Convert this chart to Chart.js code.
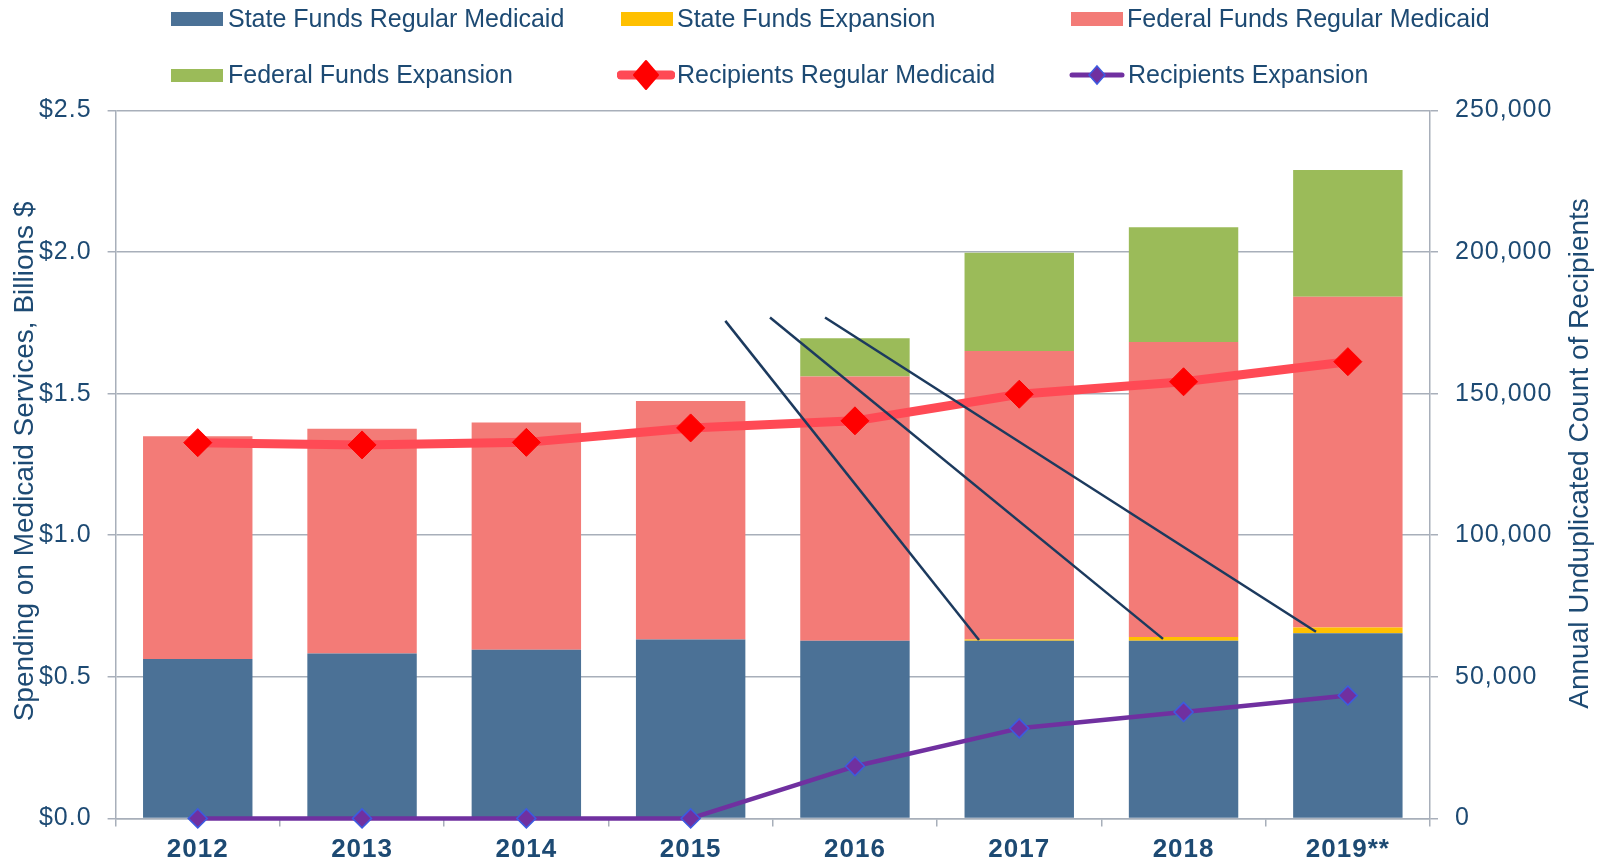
<!DOCTYPE html>
<html>
<head>
<meta charset="utf-8">
<script src="https://cdn.jsdelivr.net/npm/chart.js@4.4.1/dist/chart.umd.min.js"></script>
<style>
  html, body { margin: 0; padding: 0; background: #ffffff; }
  #wrap { position: relative; width: 1604px; height: 865px; overflow: hidden; }
  canvas { position: absolute; left: 0; top: 0; }
  .lg { position: absolute; font-family: "Liberation Sans", Arial, sans-serif; font-size: 25px; line-height: 30px; color: #1D4A73; white-space: nowrap; }
  .sw { position: absolute; }
</style>
</head>
<body>
<div id="wrap">
  <canvas id="c" width="1604" height="865"></canvas>
  <div id="legend"></div>
</div>
<script>
// ---- data ----
const years = ['2012', '2013', '2014', '2015', '2016', '2017', '2018', '2019**'];
const stateFundsRegular   = [0.563, 0.582, 0.596, 0.632, 0.627, 0.627, 0.627, 0.654];
const stateFundsExpansion = [0, 0, 0, 0, 0, 0.005, 0.014, 0.020];
const federalFundsRegular = [0.787, 0.794, 0.802, 0.842, 0.934, 1.019, 1.041, 1.168];
const federalFundsExpansion = [0, 0, 0, 0, 0.135, 0.347, 0.406, 0.448];
const recipientsRegular   = [132700, 131900, 132800, 137900, 140400, 149800, 154200, 161300];
const recipientsExpansion = [0, 0, 0, 0, 18400, 31800, 37600, 43400];
const spendingTickLabels  = ['$0.0', '$0.5', '$1.0', '$1.5', '$2.0', '$2.5'];
const recipientTickLabels = ['0', '50,000', '100,000', '150,000', '200,000', '250,000'];
const leftTitle  = 'Spending on Medicaid Services, Billions $';
const rightTitle = 'Annual Unduplicated Count of Recipients';
// callout leader lines: [startCategoryIndex, startBillions, endCategoryIndex, endBillions]
const calloutStartX = [3.211, 3.483, 3.818];
const calloutStartY = [1.757, 1.769, 1.769];
const calloutEndX   = [4.755, 5.875, 6.806];
const calloutEndY   = [0.630, 0.634, 0.659];

// ---- styles ----
const C_BLUE = '#4B7196', C_YELLOW = '#FFC000', C_SALMON = '#F37B77', C_GREEN = '#9BBB59';
const C_RED_LINE = '#FF4A55', C_RED_PT = '#FF0000', C_PURPLE = '#7030A0', C_PURPLE_EDGE = '#3D5BE0';
const TEXT = '#1D4A73', GRID = '#A8AFBA';

// ---- HTML legend ----
const legendItems = [
  { label: 'State Funds Regular Medicaid', type: 'box', color: C_BLUE, sx: 171, tx: 228, row: 0 },
  { label: 'State Funds Expansion', type: 'box', color: C_YELLOW, sx: 621, tx: 677, row: 0 },
  { label: 'Federal Funds Regular Medicaid', type: 'box', color: C_SALMON, sx: 1071, tx: 1127, row: 0 },
  { label: 'Federal Funds Expansion', type: 'box', color: C_GREEN, sx: 171, tx: 228, row: 1 },
  { label: 'Recipients Regular Medicaid', type: 'redline', sx: 617, tx: 677, row: 1 },
  { label: 'Recipients Expansion', type: 'purpleline', sx: 1068, tx: 1128, row: 1 }
];
const lg = document.getElementById('legend');
legendItems.forEach(it => {
  const rowOff = it.row * 56.3;
  if (it.type === 'box') {
    const s = document.createElement('div');
    s.className = 'sw';
    s.style.left = it.sx + 'px'; s.style.top = (12.3 + rowOff) + 'px';
    s.style.width = '52px'; s.style.height = '13.5px'; s.style.background = it.color;
    lg.appendChild(s);
  } else {
    const ns = 'http://www.w3.org/2000/svg';
    const svg = document.createElementNS(ns, 'svg');
    svg.setAttribute('width', '58'); svg.setAttribute('height', '34');
    svg.style.position = 'absolute'; svg.style.left = it.sx + 'px'; svg.style.top = (2 + rowOff) + 'px';
    const ln = document.createElementNS(ns, 'line');
    ln.setAttribute('x1', '4'); ln.setAttribute('x2', '54'); ln.setAttribute('y1', '17'); ln.setAttribute('y2', '17');
    ln.setAttribute('stroke-linecap', 'round');
    const pg = document.createElementNS(ns, 'polygon');
    if (it.type === 'redline') {
      ln.setAttribute('stroke', C_RED_LINE); ln.setAttribute('stroke-width', '9');
      pg.setAttribute('points', '29,3 41,17 29,31 17,17');
      pg.setAttribute('fill', C_RED_PT); pg.setAttribute('stroke', C_RED_PT);
      pg.setAttribute('stroke-width', '2'); pg.setAttribute('stroke-linejoin', 'round');
    } else {
      ln.setAttribute('stroke', C_PURPLE); ln.setAttribute('stroke-width', '5');
      pg.setAttribute('points', '29,8 37,17 29,26 21,17');
      pg.setAttribute('fill', C_PURPLE); pg.setAttribute('stroke', C_PURPLE_EDGE); pg.setAttribute('stroke-width', '1.5');
    }
    svg.appendChild(ln); svg.appendChild(pg);
    lg.appendChild(svg);
  }
  const t = document.createElement('div');
  t.className = 'lg';
  t.style.left = it.tx + 'px'; t.style.top = (2.8 + rowOff) + 'px';
  t.textContent = it.label;
  lg.appendChild(t);
});

// ---- plugins ----
const spacingPlugin = {
  id: 'spacing',
  beforeDraw(chart) { chart.ctx.letterSpacing = '1px'; },
  afterDraw(chart) { chart.ctx.letterSpacing = '0px'; }
};
const calloutPlugin = {
  id: 'callouts',
  afterDatasetsDraw(chart) {
    const { ctx, scales: { x, y } } = chart;
    ctx.save();
    ctx.strokeStyle = '#1C3A5E';
    ctx.lineWidth = 2.5;
    ctx.lineCap = 'butt';
    for (let i = 0; i < calloutStartX.length; i++) {
      ctx.beginPath();
      ctx.moveTo(x.getPixelForValue(calloutStartX[i]), y.getPixelForValue(calloutStartY[i]));
      ctx.lineTo(x.getPixelForValue(calloutEndX[i]), y.getPixelForValue(calloutEndY[i]));
      ctx.stroke();
    }
    ctx.restore();
  }
};
const titlePlugin = {
  id: 'axisTitles',
  afterDraw(chart) {
    const { ctx, chartArea } = chart;
    ctx.save();
    ctx.letterSpacing = '0px';
    ctx.fillStyle = TEXT;
    ctx.font = '28px "Liberation Sans", Arial, sans-serif';
    ctx.textAlign = 'center';
    ctx.textBaseline = 'middle';
    const cy = (chartArea.top + chartArea.bottom) / 2;
    ctx.save();
    ctx.translate(25.6, cy - 3);
    ctx.rotate(-Math.PI / 2);
    ctx.fillText(leftTitle, 0, 0);
    ctx.restore();
    ctx.save();
    ctx.translate(1580.5, cy - 11);
    ctx.rotate(-Math.PI / 2);
    ctx.fillText(rightTitle, 0, 0);
    ctx.restore();
    ctx.restore();
  }
};

// ---- chart ----
const tickFont = { family: '"Liberation Sans", Arial, sans-serif', size: 25 };
new Chart(document.getElementById('c'), {
  data: {
    labels: years,
    datasets: [
      { type: 'line', label: 'Recipients Regular Medicaid', data: recipientsRegular, yAxisID: 'y2', order: 0, clip: false,
        borderColor: C_RED_LINE, borderWidth: 9, tension: 0, pointStyle: 'rectRot', pointRadius: 14,
        pointBackgroundColor: C_RED_PT, pointBorderColor: C_RED_PT, pointBorderWidth: 1, borderCapStyle: 'round', borderJoinStyle: 'round' },
      { type: 'line', label: 'Recipients Expansion', data: recipientsExpansion, yAxisID: 'y2', order: 0, clip: false,
        borderColor: C_PURPLE, borderWidth: 4.5, tension: 0, pointStyle: 'rectRot', pointRadius: 9.5,
        pointBackgroundColor: C_PURPLE, pointBorderColor: C_PURPLE_EDGE, pointBorderWidth: 1.5, borderJoinStyle: 'round' },
      { type: 'bar', label: 'State Funds Regular Medicaid', data: stateFundsRegular, backgroundColor: C_BLUE, yAxisID: 'y', order: 1 },
      { type: 'bar', label: 'State Funds Expansion', data: stateFundsExpansion, backgroundColor: C_YELLOW, yAxisID: 'y', order: 1 },
      { type: 'bar', label: 'Federal Funds Regular Medicaid', data: federalFundsRegular, backgroundColor: C_SALMON, yAxisID: 'y', order: 1 },
      { type: 'bar', label: 'Federal Funds Expansion', data: federalFundsExpansion, backgroundColor: C_GREEN, yAxisID: 'y', order: 1 }
    ]
  },
  options: {
    responsive: false,
    devicePixelRatio: 1,
    animation: false,
    layout: { padding: { top: 110.5, left: 0, right: 0, bottom: 0 } },
    datasets: { bar: { barPercentage: 0.666, categoryPercentage: 1 } },
    plugins: { legend: { display: false }, tooltip: { enabled: false } },
    scales: {
      x: {
        stacked: true,
        offset: true,
        afterFit(s) { s.height = 46.6; },
        grid: { display: true, drawOnChartArea: false, drawTicks: true, tickLength: 8, color: GRID, lineWidth: 1.5, offset: true },
        border: { display: true, color: GRID, width: 1.5 },
        ticks: { color: TEXT, font: { family: '"Liberation Sans", Arial, sans-serif', size: 26, weight: 'bold' }, padding: 8, maxRotation: 0 }
      },
      y: {
        stacked: true,
        position: 'left',
        min: 0, max: 2.5,
        afterFit(s) { s.width = 115.6; },
        grid: { color: GRID, lineWidth: 1.5, drawTicks: true, tickLength: 8 },
        border: { display: true, color: GRID, width: 1.5 },
        ticks: { stepSize: 0.5, color: TEXT, font: tickFont, padding: 16,
          callback: (v, i) => spendingTickLabels[i] }
      },
      y2: {
        stacked: false,
        position: 'right',
        min: 0, max: 250000,
        afterFit(s) { s.width = 174; },
        grid: { drawOnChartArea: false, drawTicks: true, tickLength: 8, color: GRID, lineWidth: 1.5 },
        border: { display: true, color: GRID, width: 1.5 },
        ticks: { stepSize: 50000, color: TEXT, font: tickFont, padding: 17,
          callback: (v, i) => recipientTickLabels[i] }
      }
    }
  },
  plugins: [spacingPlugin, calloutPlugin, titlePlugin]
});
</script>
</body>
</html>
